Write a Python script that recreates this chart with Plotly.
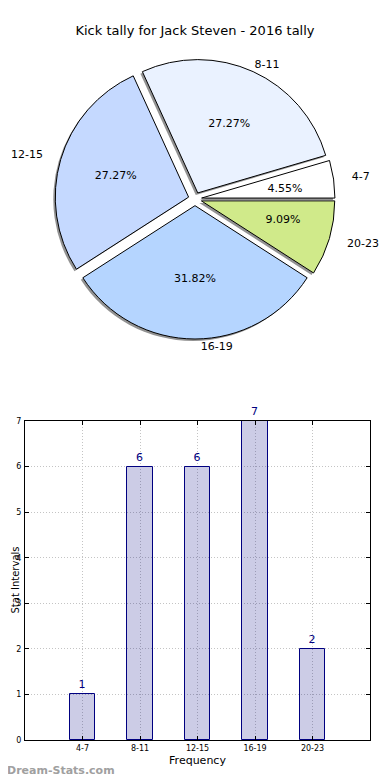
import plotly.graph_objects as go

categories = ["4-7", "8-11", "12-15", "16-19", "20-23"]
counts = [1, 6, 6, 7, 2]
slice_colors = ["#ffffff", "#eaf2ff", "#c5d9ff", "#b5d5ff", "#d0ea8a"]
y_ticks = [0, 1, 2, 3, 4, 5, 6, 7]

# page body has an 8px margin; map reference pixels into figure paper space
OFF = 8
W, H = 382, 772
FONT = "DejaVu Sans"

def fx(px):
    return (px - OFF) / W

def fy(py):
    return 1 - (py - OFF) / H

def dom_x(cx, r):
    return [fx(cx - r), fx(cx + r)]

def dom_y(cy, r):
    return [fy(cy + r), fy(cy - r)]

cx, cy, R = 195, 199, 140
pulls = [0.05] * len(categories)
rot = 90 - 360 * counts[0] / sum(counts)
clear = ["rgba(0,0,0,0)"] * len(categories)
big = [c >= 5 for c in counts]

def pie(**kw):
    base = dict(labels=categories, values=counts, sort=False, direction="counterclockwise",
                rotation=rot, showlegend=False)
    base.update(kw)
    return go.Pie(**base)

fig = go.Figure()

# shadow
fig.add_trace(pie(
    pull=pulls, textinfo="none", hoverinfo="skip",
    marker=dict(colors=["rgba(110,110,110,0.75)"] * 5, line=dict(width=0)),
    domain=dict(x=dom_x(cx - 2, R), y=dom_y(cy + 2, R)),
))

# main pie, percentages inside the large slices
fig.add_trace(pie(
    pull=pulls, texttemplate="%{percent:.2%}",
    textposition=["inside" if b else "none" for b in big],
    insidetextorientation="horizontal",
    textfont=dict(family=FONT, size=11, color="black"),
    marker=dict(colors=slice_colors, line=dict(color="black", width=1)),
    domain=dict(x=dom_x(cx, R), y=dom_y(cy, R)),
))

# percentages for the thin slices
RP = 70
fig.add_trace(pie(
    texttemplate="%{percent:.2%}",
    textposition=["none" if b else "outside" for b in big],
    textfont=dict(family=FONT, size=11, color="black"),
    marker=dict(colors=clear, line=dict(width=0)),
    hoverinfo="skip", automargin=False,
    domain=dict(x=dom_x(cx, RP), y=dom_y(cy, RP)),
))

# category labels: side labels sit further out than top/bottom ones
side = [True, False, True, False, True]
fig.add_trace(pie(
    textinfo="label", textposition=["outside" if s else "none" for s in side],
    textfont=dict(family=FONT, size=11, color="black"),
    marker=dict(colors=clear, line=dict(width=0)),
    hoverinfo="skip", automargin=False,
    domain=dict(x=dom_x(cx, 155), y=dom_y(cy, 155)),
))
fig.add_trace(pie(
    rotation=rot - 1,
    textinfo="label", textposition=["none" if s else "outside" for s in side],
    textfont=dict(family=FONT, size=11, color="black"),
    marker=dict(colors=clear, line=dict(width=0)),
    hoverinfo="skip", automargin=False,
    domain=dict(x=dom_x(cx, 141), y=dom_y(cy, 141)),
))

# bar chart
fig.add_trace(go.Bar(
    x=categories, y=counts, width=0.45, xaxis="x", yaxis="y",
    marker=dict(color="rgba(0,0,128,0.2)", line=dict(color="#000080", width=1)),
    text=[str(v) for v in counts], textposition="outside",
    textfont=dict(family=FONT, size=11, color="#000080"),
    cliponaxis=False, showlegend=False,
))

axis_common = dict(
    showline=True, linecolor="black", linewidth=1, mirror="ticks",
    ticks="inside", ticklen=4, tickcolor="black",
    showgrid=True, gridcolor="#c4c4c4", griddash="1px,2px", gridwidth=1,
    zeroline=False, tickfont=dict(family=FONT, size=8, color="black"),
)

fig.update_layout(
    width=W, height=H, paper_bgcolor="white", plot_bgcolor="white",
    margin=dict(l=0, r=0, t=0, b=0),
    font=dict(family=FONT, color="black"),
    title=dict(text="Kick tally for Jack Steven - 2016 tally", x=fx(195), xanchor="center",
               y=fy(30), yanchor="middle", font=dict(family=FONT, size=13)),
    xaxis=dict(domain=[fx(25), fx(370)], type="category", range=[-1, 5],
               title=dict(text="Frequency", font=dict(family=FONT, size=11), standoff=4),
               automargin=False, **axis_common),
    yaxis=dict(domain=[fy(740), fy(421)], range=[0, 7], tickvals=y_ticks,
               ticklabelstandoff=1, automargin=False, **axis_common),
    bargap=0,
    annotations=[
        dict(text="Stat Intervals", x=0, xanchor="left", xshift=0, y=fy(580), yanchor="middle",
             xref="paper", yref="paper", showarrow=False, textangle=-90, borderpad=0,
             font=dict(family=FONT, size=10, color="black")),
        dict(text="<b>Dream-Stats.com</b>", x=0, xanchor="left", xshift=-3, y=fy(770),
             yanchor="middle", xref="paper", yref="paper", showarrow=False,
             font=dict(family=FONT, size=11, color="#a0a0a0")),
    ],
)

fig.write_html("out.html")
